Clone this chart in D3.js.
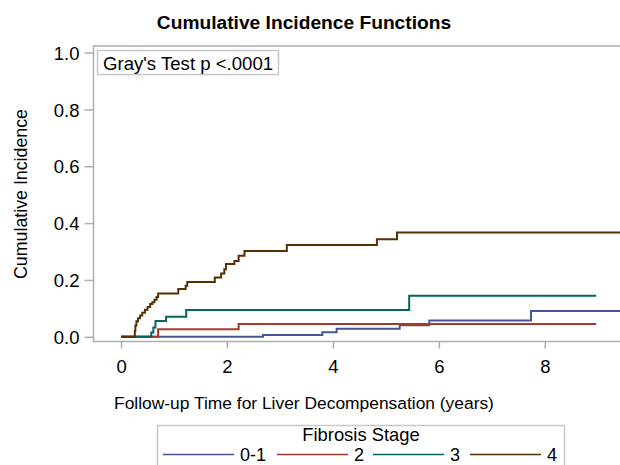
<!DOCTYPE html>
<html>
<head>
<meta charset="utf-8">
<script src="https://cdn.jsdelivr.net/npm/d3@7"></script>
<style>
  body { margin: 0; background: #fff; }
  text { font-family: "Liberation Sans", Arial, sans-serif; fill: #000; }
</style>
</head>
<body>
<script>
// fibrosis stage groups and their step points (time in years, cumulative incidence)
const stages = ["0-1", "2", "3", "4"];
const colors = ["#445694", "#A23A2E", "#01665E", "#543005"];

const stage01Time = [0, 2.68, 3.80, 4.07, 5.26, 5.82, 7.74, 9.42];
const stage01Cif  = [0, 0.006, 0.016, 0.028, 0.041, 0.057, 0.091, 0.091];

const stage2Time = [0, 0.70, 2.22, 8.97];
const stage2Cif  = [0, 0.027, 0.045, 0.045];

const stage3Time = [0, 0.57, 0.61, 0.65, 0.85, 1.23, 5.44, 8.97];
const stage3Cif  = [0, 0.015, 0.033, 0.056, 0.071, 0.094, 0.144, 0.144];

const stage4Time = [0, 0.26, 0.27, 0.29, 0.32, 0.36, 0.40, 0.45, 0.50, 0.55, 0.59, 0.63, 0.67, 0.70,
  1.08, 1.22, 1.25, 1.77, 1.89, 1.95, 1.98, 2.14, 2.22, 2.33, 3.13, 4.83, 5.21, 9.42];
const stage4Cif  = [0, 0.02, 0.04, 0.055, 0.065, 0.075, 0.085, 0.095, 0.105, 0.115, 0.122, 0.13, 0.14, 0.152,
  0.168, 0.18, 0.193, 0.209, 0.223, 0.238, 0.256, 0.267, 0.285, 0.302, 0.323, 0.343, 0.367, 0.367];

const xTicks = [0, 2, 4, 6, 8];
const yTicks = [0, 0.2, 0.4, 0.6, 0.8, 1.0];

const series = [
  { name: stages[0], t: stage01Time, v: stage01Cif },
  { name: stages[1], t: stage2Time, v: stage2Cif },
  { name: stages[2], t: stage3Time, v: stage3Cif },
  { name: stages[3], t: stage4Time, v: stage4Cif }
];

const width = 620, height = 465;
const plotLeft = 93.5, plotRight = 620, plotTop = 46, plotBottom = 341.5;
const axisColor = "#A9AFB5";

const svg = d3.select("body").append("svg")
  .attr("width", width)
  .attr("height", height);

const x = d3.scaleLinear().domain([-0.52, 9.42]).range([plotLeft, plotRight]);
const y = d3.scaleLinear().domain([-0.0165, 1.023]).range([plotBottom, plotTop]);

// title
svg.append("text")
  .attr("x", 304).attr("y", 28.5)
  .attr("text-anchor", "middle")
  .attr("font-size", 19.2).attr("font-weight", "bold")
  .text("Cumulative Incidence Functions");

// frame
svg.append("rect")
  .attr("x", plotLeft).attr("y", plotTop)
  .attr("width", plotRight - plotLeft + 5).attr("height", plotBottom - plotTop)
  .attr("fill", "none").attr("stroke", axisColor).attr("stroke-width", 1.5);

// axes
const xAxis = svg.append("g")
  .attr("transform", "translate(0," + plotBottom + ")")
  .call(d3.axisBottom(x).tickValues(xTicks).tickFormat(d3.format("d")).tickSize(7).tickPadding(11));
const yAxis = svg.append("g")
  .attr("transform", "translate(" + plotLeft + ",0)")
  .call(d3.axisLeft(y).tickValues(yTicks).tickFormat(d3.format(".1f")).tickSize(9).tickPadding(5));

[xAxis, yAxis].forEach(function(g) {
  g.select(".domain").remove();
  g.selectAll(".tick line").attr("stroke", axisColor).attr("stroke-width", 1.5);
  g.selectAll(".tick text")
    .attr("font-size", 18.5)
    .attr("font-family", "Liberation Sans, Arial, sans-serif")
    .attr("fill", "#000");
});
yAxis.selectAll(".tick text").attr("dy", "0.36em");

// axis labels
svg.append("text")
  .attr("x", 304).attr("y", 409)
  .attr("text-anchor", "middle")
  .attr("font-size", 17.4)
  .text("Follow-up Time for Liver Decompensation (years)");

svg.append("text")
  .attr("transform", "translate(27," + 194 + ") rotate(-90)")
  .attr("text-anchor", "middle")
  .attr("font-size", 17.8)
  .text("Cumulative Incidence");

// curves
svg.append("clipPath").attr("id", "plotClip")
  .append("rect")
  .attr("x", plotLeft).attr("y", plotTop)
  .attr("width", plotRight - plotLeft).attr("height", plotBottom - plotTop);

const line = d3.line()
  .x(function(d) { return x(d[0]); })
  .y(function(d) { return y(d[1]); })
  .curve(d3.curveStepAfter);

svg.append("g").attr("clip-path", "url(#plotClip)")
  .selectAll("path")
  .data(series)
  .enter()
  .append("path")
  .attr("d", function(s) { return line(s.t.map(function(t, i) { return [t, s.v[i]]; })); })
  .attr("fill", "none")
  .attr("stroke", function(s, i) { return colors[i]; })
  .attr("stroke-width", 2);

// inset text box
svg.append("rect")
  .attr("x", 97.5).attr("y", 50.5)
  .attr("width", 181).attr("height", 24)
  .attr("fill", "#fff").attr("stroke", "#C8C8C8").attr("stroke-width", 1.5);
svg.append("text")
  .attr("x", 103).attr("y", 69.5)
  .attr("font-size", 18.6)
  .text("Gray's Test p <.0001");

// legend
svg.append("rect")
  .attr("x", 157.5).attr("y", 425.5)
  .attr("width", 407).attr("height", 60)
  .attr("fill", "#fff").attr("stroke", "#C8C8C8").attr("stroke-width", 1.5);
svg.append("text")
  .attr("x", 361).attr("y", 440.5)
  .attr("text-anchor", "middle")
  .attr("font-size", 18.4)
  .text("Fibrosis Stage");

const legendX = [163, 277, 373, 470];
const legend = svg.selectAll(".legend")
  .data(series)
  .enter()
  .append("g")
  .attr("class", "legend")
  .attr("transform", function(d, i) { return "translate(" + legendX[i] + ",454.5)"; });
legend.append("line")
  .attr("x1", 0).attr("x2", 71)
  .attr("stroke", function(d, i) { return colors[i]; })
  .attr("stroke-width", 1.5);
legend.append("text")
  .attr("x", 77).attr("y", 6)
  .attr("font-size", 18)
  .text(function(d) { return d.name; });
</script>
</body>
</html>
